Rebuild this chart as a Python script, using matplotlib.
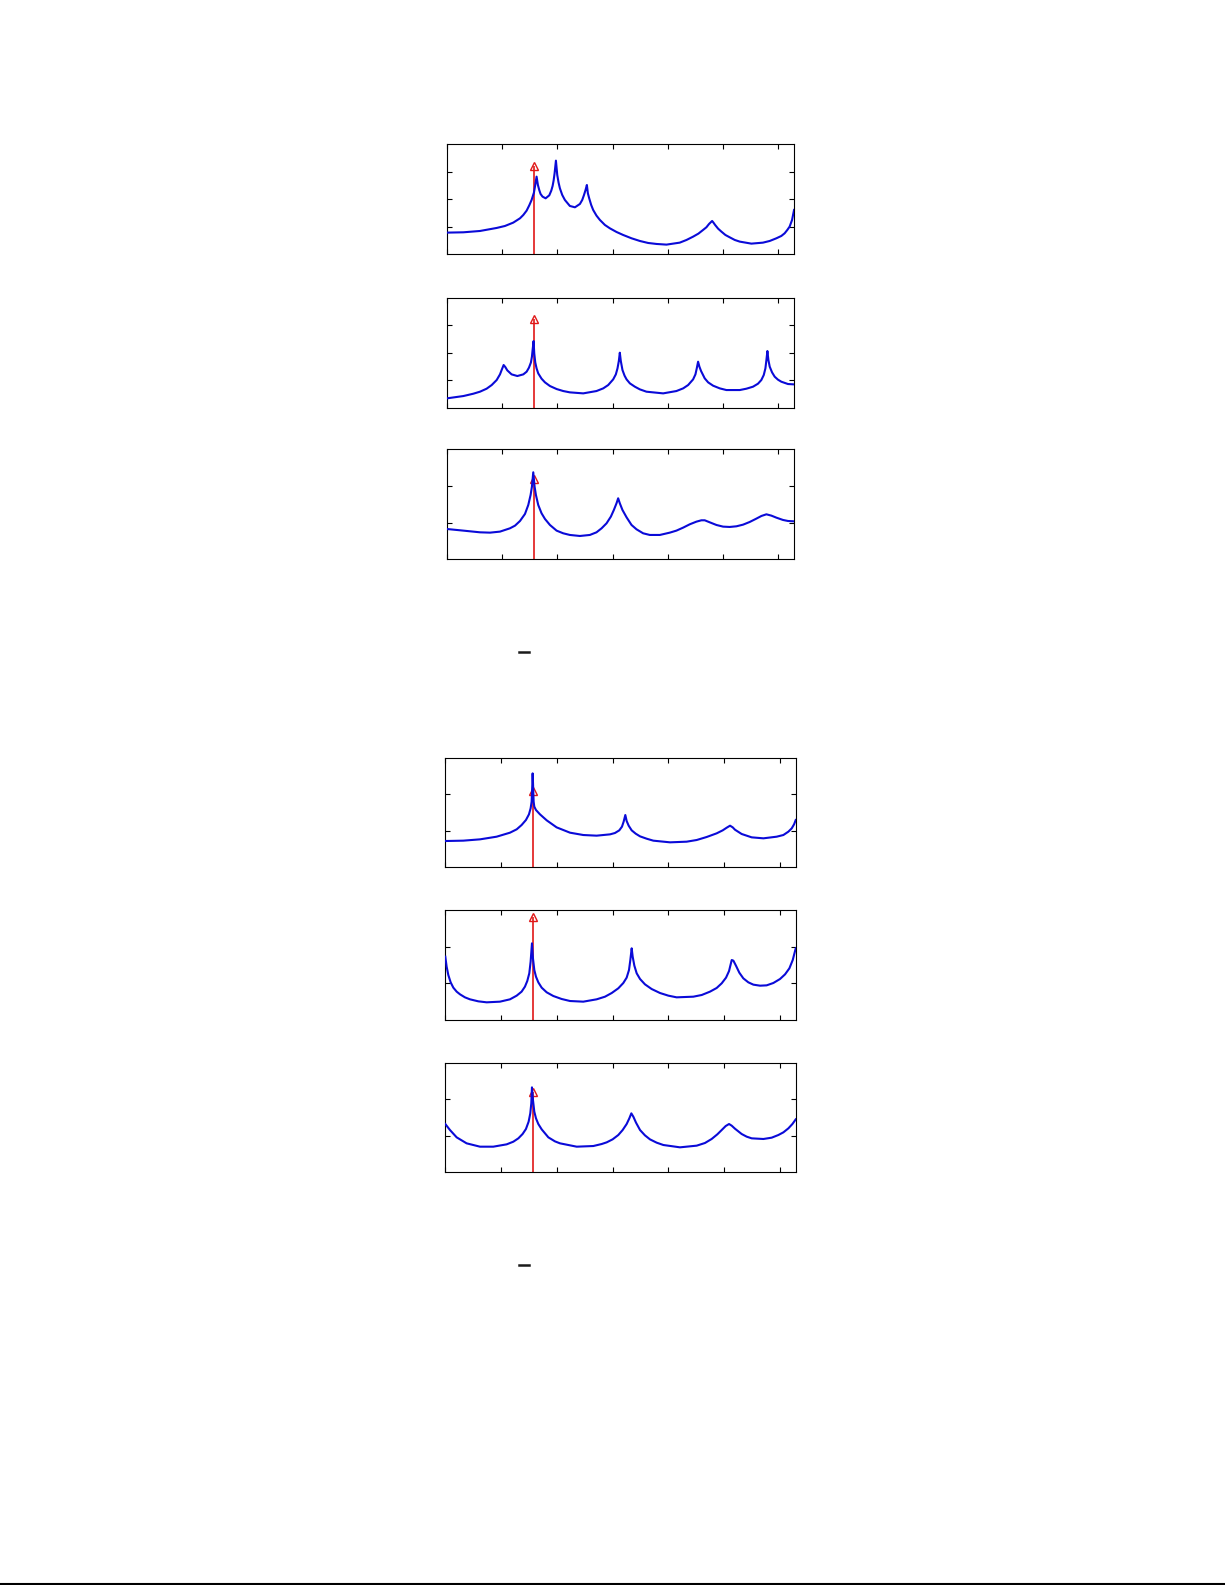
import numpy as np
import matplotlib
matplotlib.use("Agg")
import matplotlib.pyplot as plt
from matplotlib.lines import Line2D

# ---------------- data ----------------
# frequency axis in radians (0..pi), magnitudes in axis units
x1 = [0.000, 0.151, 0.301, 0.452, 0.527, 0.602, 0.663, 0.693, 0.723, 0.747, 0.768, 0.789, 0.801,
      0.813, 0.825, 0.837, 0.849, 0.867, 0.895, 0.928, 0.946, 0.958, 0.967, 0.976, 0.988, 1.000,
      1.012, 1.024, 1.045, 1.069, 1.114, 1.160, 1.205, 1.226, 1.241, 1.256, 1.268, 1.277, 1.289,
      1.307, 1.325, 1.355, 1.386, 1.431, 1.476, 1.536, 1.596, 1.672, 1.747, 1.822, 1.898, 1.988,
      2.108, 2.169, 2.229, 2.277, 2.319, 2.349, 2.373, 2.401, 2.413, 2.428, 2.455, 2.485, 2.521,
      2.560, 2.606, 2.651, 2.756, 2.861, 2.922, 2.982, 3.027, 3.057, 3.081, 3.102, 3.124, 3.142]
y1 = [0.788, 0.800, 0.848, 0.958, 1.030, 1.152, 1.309, 1.430, 1.588, 1.782, 1.976, 2.242, 2.521,
      2.824, 2.521, 2.339, 2.194, 2.097, 2.036, 2.145, 2.315, 2.485, 2.679, 2.945, 3.406, 2.885,
      2.606, 2.400, 2.158, 1.976, 1.758, 1.709, 1.830, 1.976, 2.145, 2.339, 2.521, 2.218, 2.036,
      1.794, 1.612, 1.406, 1.248, 1.067, 0.945, 0.812, 0.703, 0.582, 0.485, 0.412, 0.376, 0.352,
      0.424, 0.521, 0.642, 0.752, 0.885, 0.982, 1.103, 1.212, 1.152, 1.067, 0.933, 0.824, 0.703,
      0.618, 0.521, 0.461, 0.388, 0.424, 0.485, 0.582, 0.667, 0.764, 0.885, 1.006, 1.248, 1.612]

x2 = [0.000, 0.151, 0.241, 0.301, 0.361, 0.407, 0.452, 0.482, 0.497, 0.515, 0.530, 0.548, 0.587,
      0.639, 0.693, 0.723, 0.744, 0.762, 0.771, 0.777, 0.786, 0.792, 0.801, 0.813, 0.828, 0.858,
      0.889, 0.934, 0.994, 1.054, 1.114, 1.235, 1.355, 1.416, 1.461, 1.506, 1.530, 1.545, 1.557,
      1.566, 1.575, 1.590, 1.609, 1.627, 1.657, 1.702, 1.747, 1.807, 1.958, 2.078, 2.139, 2.184,
      2.229, 2.250, 2.262, 2.274, 2.286, 2.301, 2.334, 2.365, 2.410, 2.470, 2.530, 2.651, 2.711,
      2.771, 2.816, 2.846, 2.868, 2.883, 2.892, 2.901, 2.910, 2.922, 2.943, 2.967, 2.997, 3.027,
      3.087, 3.142]
y2 = [0.339, 0.424, 0.509, 0.582, 0.691, 0.824, 1.006, 1.212, 1.370, 1.552, 1.479, 1.358, 1.212,
      1.152, 1.212, 1.309, 1.455, 1.648, 1.855, 2.097, 2.424, 1.976, 1.648, 1.430, 1.248, 1.055,
      0.921, 0.788, 0.679, 0.606, 0.558, 0.521, 0.606, 0.703, 0.824, 1.030, 1.212, 1.430, 1.697,
      2.000, 1.697, 1.370, 1.164, 1.030, 0.885, 0.764, 0.667, 0.582, 0.521, 0.606, 0.703, 0.824,
      1.030, 1.212, 1.430, 1.673, 1.491, 1.333, 1.067, 0.921, 0.800, 0.703, 0.642, 0.642, 0.691,
      0.764, 0.873, 1.006, 1.188, 1.430, 1.733, 2.061, 1.733, 1.491, 1.285, 1.127, 1.018, 0.945,
      0.861, 0.848]

x3 = [0.000, 0.151, 0.301, 0.392, 0.482, 0.572, 0.618, 0.663, 0.708, 0.738, 0.759, 0.771, 0.783,
      0.795, 0.807, 0.828, 0.858, 0.889, 0.934, 0.994, 1.054, 1.114, 1.205, 1.295, 1.355, 1.401,
      1.446, 1.485, 1.512, 1.536, 1.551, 1.566, 1.590, 1.627, 1.672, 1.717, 1.777, 1.837, 1.928,
      2.018, 2.078, 2.139, 2.199, 2.259, 2.304, 2.334, 2.379, 2.440, 2.500, 2.560, 2.621, 2.681,
      2.741, 2.801, 2.847, 2.892, 2.937, 2.982, 3.042, 3.087, 3.142]
y3 = [0.827, 0.782, 0.736, 0.727, 0.755, 0.845, 0.918, 1.045, 1.236, 1.482, 1.755, 1.982, 2.373,
      1.982, 1.755, 1.482, 1.255, 1.100, 0.936, 0.782, 0.709, 0.664, 0.636, 0.664, 0.736, 0.845,
      0.982, 1.164, 1.345, 1.527, 1.664, 1.527, 1.345, 1.145, 0.936, 0.818, 0.709, 0.664, 0.664,
      0.727, 0.782, 0.864, 0.955, 1.027, 1.064, 1.064, 1.009, 0.936, 0.891, 0.882, 0.900, 0.945,
      1.018, 1.109, 1.182, 1.227, 1.191, 1.136, 1.073, 1.045, 1.036]

x4 = [0.000, 0.161, 0.311, 0.460, 0.580, 0.640, 0.684, 0.723, 0.750, 0.765, 0.774, 0.780, 0.783,
      0.786, 0.792, 0.798, 0.813, 0.849, 0.909, 0.998, 1.118, 1.237, 1.357, 1.477, 1.521, 1.560,
      1.584, 1.599, 1.614, 1.626, 1.644, 1.671, 1.707, 1.746, 1.805, 1.865, 2.015, 2.164, 2.254,
      2.343, 2.433, 2.487, 2.523, 2.553, 2.577, 2.597, 2.657, 2.747, 2.852, 2.971, 3.031, 3.076,
      3.106, 3.127, 3.142]
y4 = [0.713, 0.723, 0.759, 0.832, 0.942, 1.034, 1.152, 1.290, 1.445, 1.610, 1.793, 2.250, 2.570,
      2.342, 1.793, 1.656, 1.564, 1.445, 1.281, 1.088, 0.942, 0.878, 0.860, 0.896, 0.933, 1.006,
      1.107, 1.244, 1.427, 1.262, 1.134, 1.006, 0.915, 0.841, 0.777, 0.723, 0.677, 0.695, 0.741,
      0.823, 0.924, 1.006, 1.079, 1.134, 1.088, 1.024, 0.906, 0.814, 0.787, 0.832, 0.878, 0.970,
      1.061, 1.171, 1.290]

x5 = [0.000, 0.012, 0.027, 0.048, 0.072, 0.102, 0.132, 0.176, 0.221, 0.296, 0.371, 0.490, 0.580,
      0.640, 0.684, 0.714, 0.735, 0.753, 0.765, 0.777, 0.786, 0.798, 0.813, 0.834, 0.864, 0.909,
      0.968, 1.043, 1.118, 1.237, 1.357, 1.432, 1.492, 1.551, 1.596, 1.626, 1.647, 1.659, 1.671,
      1.680, 1.695, 1.716, 1.746, 1.790, 1.850, 1.925, 2.000, 2.074, 2.224, 2.299, 2.373, 2.433,
      2.478, 2.517, 2.544, 2.568, 2.583, 2.606, 2.636, 2.672, 2.717, 2.762, 2.822, 2.881, 2.941,
      3.001, 3.046, 3.085, 3.115, 3.142]
y5 = [1.727, 1.455, 1.227, 1.027, 0.882, 0.773, 0.700, 0.618, 0.564, 0.509, 0.482, 0.500, 0.564,
      0.664, 0.773, 0.909, 1.064, 1.273, 1.591, 2.091, 1.682, 1.364, 1.182, 1.027, 0.882, 0.755,
      0.655, 0.573, 0.518, 0.500, 0.564, 0.636, 0.736, 0.864, 1.009, 1.155, 1.364, 1.636, 1.955,
      1.727, 1.482, 1.273, 1.118, 0.973, 0.845, 0.736, 0.664, 0.618, 0.636, 0.682, 0.773, 0.873,
      1.000, 1.155, 1.336, 1.636, 1.618, 1.482, 1.291, 1.136, 1.027, 0.964, 0.936, 0.945, 1.009,
      1.118, 1.245, 1.409, 1.636, 1.955]

x6 = [0.000, 0.042, 0.102, 0.191, 0.311, 0.430, 0.550, 0.610, 0.655, 0.693, 0.723, 0.747, 0.762,
      0.771, 0.777, 0.786, 0.798, 0.813, 0.834, 0.864, 0.924, 0.983, 1.028, 1.178, 1.327, 1.402,
      1.447, 1.500, 1.551, 1.590, 1.626, 1.650, 1.668, 1.686, 1.710, 1.746, 1.790, 1.835, 1.895,
      1.955, 2.104, 2.254, 2.328, 2.388, 2.439, 2.478, 2.514, 2.544, 2.568, 2.597, 2.657, 2.702,
      2.747, 2.852, 2.926, 2.986, 3.031, 3.076, 3.112, 3.142]
y6 = [1.317, 1.152, 0.951, 0.787, 0.695, 0.695, 0.759, 0.832, 0.924, 1.043, 1.180, 1.381, 1.610,
      1.884, 2.323, 1.976, 1.656, 1.473, 1.317, 1.171, 0.951, 0.841, 0.787, 0.695, 0.713, 0.768,
      0.814, 0.896, 1.015, 1.152, 1.317, 1.473, 1.610, 1.518, 1.354, 1.152, 1.006, 0.896, 0.805,
      0.741, 0.677, 0.723, 0.796, 0.906, 1.034, 1.152, 1.262, 1.317, 1.271, 1.189, 1.043, 0.970,
      0.924, 0.906, 0.942, 1.015, 1.088, 1.198, 1.317, 1.445]

curves_x = [x1, x2, x3, x4, x5, x6]
curves_y = [y1, y2, y3, y4, y5, y6]

arrow_freq = [np.pi / 4] * 6                      # tone frequency (red stem)
arrow_height = [3.22, 3.24, 2.19, 2.09, 2.81, 2.20]
y_max = [4, 4, 3, 3, 3, 3]
x_ticks = [0, 0.5, 1.0, 1.5, 2.0, 2.5, 3.0]

# ---------------- layout ----------------
W, H = 1225, 1585
fig = plt.figure(figsize=(W / 100, H / 100), dpi=100)

# (left, top, right, bottom) in pixels
boxes = [
    (446.7, 144.3, 794.0, 254.3),
    (446.7, 297.7, 794.0, 407.7),
    (446.7, 449.3, 794.0, 559.3),
    (445.3, 757.7, 795.7, 867.0),
    (445.3, 910.0, 795.7, 1020.0),
    (445.3, 1062.7, 795.7, 1172.0),
]

blue = "#0a0ad8"
red = "#e01818"

for i, (l, t, r, b) in enumerate(boxes):
    ax = fig.add_axes([l / W, 1 - b / H, (r - l) / W, (b - t) / H])
    ax.vlines(arrow_freq[i], 0, arrow_height[i], color=red, lw=1.2, zorder=2)
    ax.plot([arrow_freq[i]], [arrow_height[i]], marker="^", ms=6, mfc="none",
            mec=red, mew=1.0, ls="none", zorder=2, clip_on=False)
    ax.plot(curves_x[i], curves_y[i], color=blue, lw=1.5, zorder=3,
            solid_joinstyle="round")
    ax.set_xlim(0, np.pi)
    ax.set_ylim(0, y_max[i])
    ax.set_xticks(x_ticks)
    ax.set_yticks(np.arange(1, y_max[i]))
    ax.tick_params(direction="in", length=3.5, width=0.8, top=True, right=True,
                   labelbottom=False, labelleft=False)
    for s in ax.spines.values():
        s.set_linewidth(0.8)

# stray caption dashes
for yy in (652, 1265):
    fig.add_artist(Line2D([519 / W, 529 / W], [1 - yy / H, 1 - yy / H],
                          transform=fig.transFigure, color="#1a1a1a", lw=1.8))

# bottom rule
fig.add_artist(Line2D([0, 1], [1 - 1584 / H, 1 - 1584 / H], transform=fig.transFigure,
                      color="black", lw=1.5))

fig.savefig("out.png", dpi=100)
